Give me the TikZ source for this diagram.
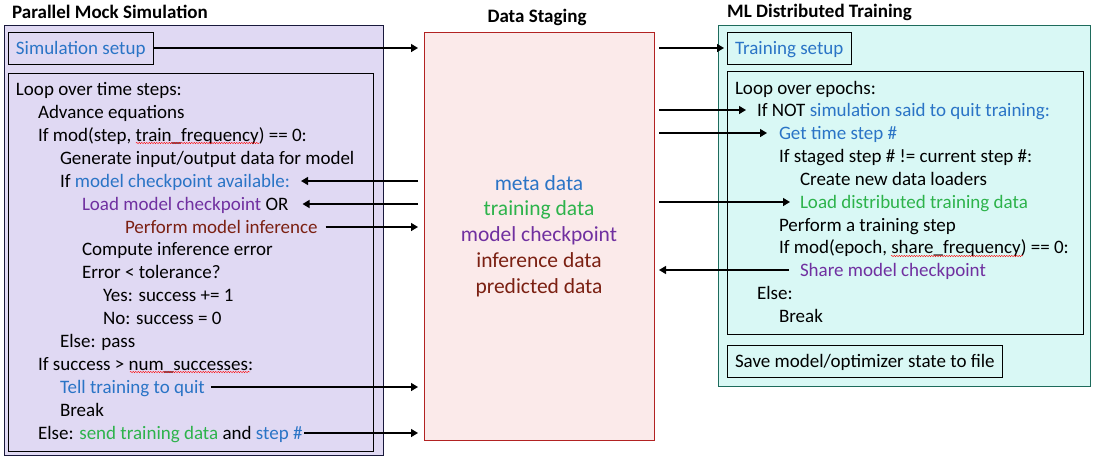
\documentclass[tikz,border=0pt]{standalone}
\usepackage{fontspec}
\setmainfont{Carlito}
\usetikzlibrary{arrows.meta,calc,decorations.pathmorphing}
\definecolor{cblue}{RGB}{42,116,198}
\definecolor{cgreen}{RGB}{45,179,75}
\definecolor{cpurple}{RGB}{112,48,160}
\definecolor{cbrown}{RGB}{123,32,18}
\definecolor{lav}{RGB}{224,217,243}
\definecolor{pinkf}{RGB}{251,234,234}
\definecolor{pinkd}{RGB}{178,34,34}
\definecolor{cyanf}{RGB}{217,248,245}
\definecolor{teald}{RGB}{30,107,92}
\definecolor{navyd}{RGB}{25,25,60}
\newcommand\bodyfont{\fontsize{19}{22}\selectfont}
\newcommand\bigfont{\fontsize{21.5}{25.8}\selectfont}
\tikzset{
  txt/.style={anchor=west, inner sep=0pt, outer sep=0pt, text height=16pt, text depth=3pt, font=\bodyfont},
  ttl/.style={anchor=west, inner sep=0pt, font=\bodyfont\bfseries},
  panel/.style={draw, anchor=north west, inner sep=0pt, outer sep=0pt, line width=0.9pt},
  tbox/.style={draw=black, line width=0.9pt, anchor=north west, inner xsep=8pt, inner ysep=0pt, outer sep=0pt,
     minimum height=32pt, text height=16pt, text depth=3pt, font=\bodyfont},
  arr/.style={line width=1.4pt, -{Triangle[length=7pt,width=8pt]}},
  squig/.style={red, line width=0.4pt, decorate, decoration={snake, amplitude=0.7pt, segment length=2.5pt}}
}
\begin{document}
\begin{tikzpicture}[x=1pt,y=-1pt]
\useasboundingbox (0,0) rectangle (1098,459);
% ---- left panel ----
\node[ttl] (t0) at (12,12) {Parallel Mock Simulation};
\node[panel, draw=navyd, fill=lav, minimum width=379pt, minimum height=430pt] (lout) at (4,25) {};
\node[tbox] (simsetup) at (8,32) {\color{cblue}Simulation setup};
\node[panel, draw=black, minimum width=365pt, minimum height=378pt] (lloop) at (8,73) {};
\node[txt] (L1) at (16,89) {Loop over time steps:};
\node[txt] (L2) at (38,112) {Advance equations};
\node[txt] (L3) at (38,135) {If mod(step, train\_frequency) == 0:};
\node[txt] (L4) at (60,158) {Generate input/output data for model};
\node[txt] (L5) at (60,181) {If {\color{cblue}model checkpoint available:}};
\node[txt] (L6) at (82,204) {{\color{cpurple}Load model checkpoint} OR};
\node[txt] (L7) at (125,227) {\color{cbrown}Perform model inference};
\node[txt] (L8) at (82,249) {Compute inference error};
\node[txt] (L9) at (82,272) {Error < tolerance?};
\node[txt] (L10) at (103,295) {Yes: success += 1};
\node[txt] (L11) at (103,318) {No: success = 0};
\node[txt] (L12) at (60,341) {Else: pass};
\node[txt] (L13) at (38,364) {If success > num\_successes:};
\node[txt] (L14) at (60,387) {\color{cblue}Tell training to quit};
\node[txt] (L15) at (60,410) {Break};
\node[txt] (L16) at (38,433) {Else: {\color{cgreen}send training data} and {\color{cblue}step \#}};
\draw[squig] (136,143) -- (260,143);
\draw[squig] (130,372) -- (250,372);
% ---- staging ----
\node[ttl, anchor=center] (t1) at (537,17) {Data Staging};
\node[panel, draw=pinkd, fill=pinkf, minimum width=230pt, minimum height=408pt, align=center, font=\bigfont] (stage) at (424,32)
  {{\color{cblue}meta data}\\{\color{cgreen}training data}\\{\color{cpurple}model checkpoint}\\{\color{cbrown}inference data}\\{\color{cbrown}predicted data}};
% ---- right panel ----
\node[ttl] (t2) at (727,12) {ML Distributed Training};
\node[panel, draw=teald, fill=cyanf, minimum width=372pt, minimum height=361pt] (rout) at (718,25) {};
\node[tbox] (tsetup) at (727,32) {\color{cblue}Training setup};
\node[panel, draw=black, minimum width=356pt, minimum height=263pt] (rloop) at (727,71) {};
\node[txt] (R1) at (735,88) {Loop over epochs:};
\node[txt] (R2) at (757,110) {If NOT {\color{cblue}simulation said to quit training:}};
\node[txt] (R3) at (779,133) {\color{cblue}Get time step \#};
\node[txt] (R4) at (779,156) {If staged step \# != current step \#:};
\node[txt] (R5) at (800,179) {Create new data loaders};
\node[txt] (R6) at (800,202) {\color{cgreen}Load distributed training data};
\node[txt] (R7) at (779,225) {Perform a training step};
\node[txt] (R8) at (779,247) {If mod(epoch, share\_frequency) == 0:};
\node[txt] (R9) at (800,270) {\color{cpurple}Share model checkpoint};
\node[txt] (R10) at (757,293) {Else:};
\node[txt] (R11) at (779,316) {Break};
\node[tbox] (save) at (727,345) {Save model/optimizer state to file};
\draw[squig] (891,256) -- (1023,256);
% ---- connector ends ----
\coordinate (sa1) at (418,48);
\coordinate (sa2) at (418,181);
\coordinate (sa3) at (418,204);
\coordinate (sa4) at (418,227);
\coordinate (sa5) at (418,387);
\coordinate (sa6) at (418,433);
\coordinate (sb1) at (659,48);
\coordinate (sb2) at (659,110);
\coordinate (sb3) at (659,133);
\coordinate (sb4) at (659,202);
\coordinate (sb5) at (659,270);
% ---- arrows ----
\draw[arr] (simsetup.east) -- (sa1);
\draw[arr] (sa2) -- ($(L5.east)+(11,0)$);
\draw[arr] (sa3) -- ($(L6.east)+(14,0)$);
\draw[arr] ($(L7.east)+(8,0)$) -- (sa4);
\draw[arr] ($(L14.east)+(6,0)$) -- (sa5);
\draw[arr] ($(L16.east)+(2,0)$) -- (sa6);
\draw[arr] (sb1) -- ($(tsetup.west)+(-3,0)$);
\draw[arr] (sb2) -- ($(R2.west)+(-11,0)$);
\draw[arr] (sb3) -- ($(R3.west)+(-12,0)$);
\draw[arr] (sb4) -- ($(R6.west)+(-10,0)$);
\draw[arr] ($(R9.west)+(-11,0)$) -- (sb5);
\end{tikzpicture}
\end{document}
